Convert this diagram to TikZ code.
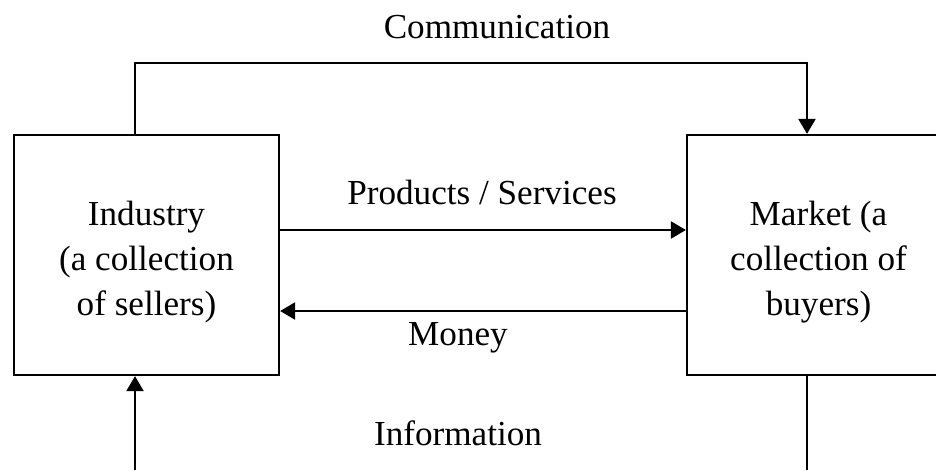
\documentclass[tikz,border=0pt]{standalone}
\usepackage{fontspec}
\setmainfont{Liberation Serif}
\usetikzlibrary{arrows.meta, positioning}

\begin{document}
\begin{tikzpicture}[
    x=0.02cm, y=-0.02cm,
    line width=1.3pt,
    every node/.style={font=\fontsize{20}{25.6}\selectfont, align=center},
    box/.style={rectangle, draw, minimum height=4.8cm, inner sep=0pt},
    inside/.style={yshift=-0.14cm},
    arr/.style={-{Triangle[width=0.34cm, length=0.3cm]}}
]
\useasboundingbox (0,0) rectangle (936,470);
\clip (0,0) rectangle (936,470);

% boxes
\node[box, minimum width=5.3cm,
    label={[inside]center:Industry\\(a collection\\of sellers)}] (ind) at (146.5,255) {};
\node[box, minimum width=5.26cm,
    label={[inside]center:Market (a\\collection of\\buyers)}] (mkt) at (818.5,255) {};

% labels
\node (comm) at (497,27) {Communication};
\node (prod) at (482,192) {Products / Services};
\node (money) at (458,338) {Money};
\node (info) at (458,433) {Information};

% flows
\coordinate (cl) at (135,63);
\coordinate (cr) at (807,63);
\coordinate (bl) at (135,470);
\coordinate (br) at (807,470);
\draw[arr] (cl |- ind.north) -- (cl) -- (cr) -- (cr |- mkt.north);
\draw[arr] (ind.east |- 0,230) -- (mkt.west |- 0,230);
\draw[arr] (mkt.west |- 0,311) -- (ind.east |- 0,311);
\draw[arr] (bl) -- (bl |- ind.south);
\draw (br |- mkt.south) -- (br);
\end{tikzpicture}
\end{document}
